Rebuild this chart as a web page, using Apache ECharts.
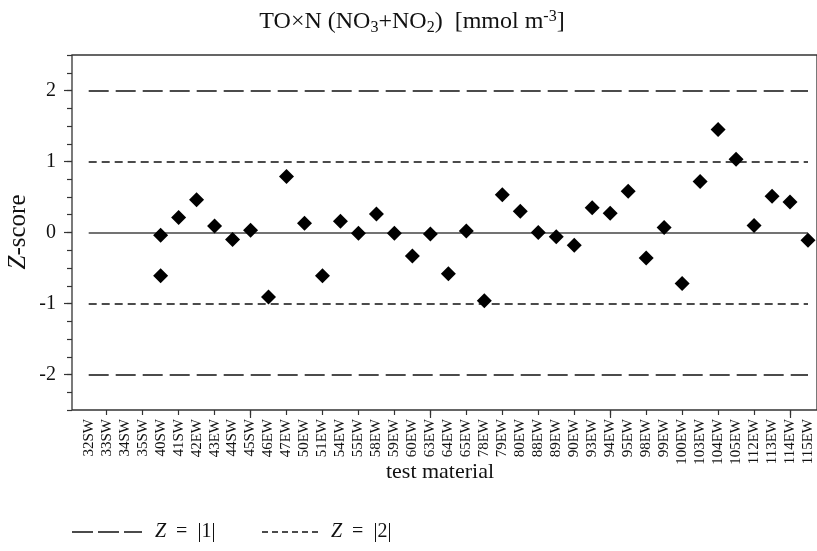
<!DOCTYPE html>
<html><head><meta charset="utf-8">
<script src="https://cdn.jsdelivr.net/npm/echarts@6/dist/echarts.min.js"></script>
<style>html,body{margin:0;padding:0;background:#fff}#c{width:817px;height:551px}</style>
</head><body><div id="c"></div>
<script>
var categories = ['32SW','33SW','34SW','35SW','40SW','41SW','42EW','43EW','44SW','45SW','46EW','47EW','50EW','51EW','54EW','55EW','58EW','59EW','60EW','63EW','64EW','65EW','78EW','79EW','80EW','88EW','89EW','90EW','93EW','94EW','95EW','98EW','99EW','100EW','103EW','104EW','105EW','112EW','113EW','114EW','115EW'];
var zScores = [null,null,null,null,-0.04,0.21,0.46,0.09,-0.10,0.03,-0.91,0.79,0.13,-0.61,0.16,-0.01,0.26,-0.01,-0.33,-0.02,-0.58,0.02,-0.96,0.53,0.30,0.00,-0.06,-0.18,0.35,0.27,0.58,-0.36,0.07,-0.72,0.72,1.45,1.03,0.10,0.51,0.43,-0.11];
var zScoresExtra = [null,null,null,null,-0.61,null,null,null,null,null,null,null,null,null,null,null,null,null,null,null,null,null,null,null,null,null,null,null,null,null,null,null,null,null,null,null,null,null,null,null,null];
var limitOne = [-1, 1];
var limitTwo = [-2, 2];
var yTicks = [-2, -1, 0, 1, 2];

var FONT = '"Liberation Serif", "DejaVu Serif", serif';
var chart = echarts.init(document.getElementById('c'), null, {renderer: 'canvas'});

function hline(v, dash, w, col) {
  return [{coord: [categories[0], v], lineStyle: {type: dash, width: w, color: col}},
          {coord: [categories[categories.length - 1], v]}];
}

var option = {
  animation: false,
  backgroundColor: '#fff',
  title: {
    text: '{a|TO×N (NO}{s|3}{a|+NO}{s|2}{a|)  [mmol m}{p|-3}{a|]}',
    left: 407, top: 3, textAlign: 'center',
    textStyle: {
      fontFamily: FONT, fontWeight: 'normal', color: '#111',
      rich: {
        a: {fontFamily: FONT, fontSize: 24, color: '#111'},
        s: {fontFamily: FONT, fontSize: 16, color: '#111', padding: [12, 0, 0, 0]},
        p: {fontFamily: FONT, fontSize: 16, color: '#111', padding: [0, 0, 11, 0]}
      }
    }
  },
  grid: [
    {left: 72, width: 770, top: 55, bottom: 141, show: true, borderColor: '#333', borderWidth: 1.3, backgroundColor: 'transparent'},
    {left: 79.7, right: 0, top: 55, bottom: 141},
    {left: 72, width: 770, top: 90.5, bottom: 176.5}
  ],
  xAxis: [
    {gridIndex: 0, type: 'value', show: false, min: 0, max: 1},
    {gridIndex: 1, type: 'category', data: categories, boundaryGap: true,
     axisLine: {show: false, onZero: false},
     axisTick: {show: true, alignWithLabel: true, length: 5, interval: function (i) { return i % 2 === 1; }, lineStyle: {color: '#333', width: 1.2}},
     axisLabel: {rotate: 90, interval: 0, margin: 9, fontFamily: FONT, fontSize: 15, color: '#111'},
     splitLine: {show: false}
    },
    {gridIndex: 1, type: 'category', data: categories, boundaryGap: true, position: 'bottom',
     axisLine: {show: false, onZero: false},
     axisTick: {show: true, alignWithLabel: true, length: 8, interval: function (i) { return i % 10 === 9; }, lineStyle: {color: '#333', width: 1.2}},
     axisLabel: {show: false}, splitLine: {show: false}
    },
    {gridIndex: 2, type: 'value', show: false, min: 0, max: 1}
  ],
  yAxis: [
    {gridIndex: 0, type: 'value', min: -2.5, max: 2.5, interval: 0.25,
     axisLine: {show: false}, axisLabel: {show: false}, splitLine: {show: false},
     axisTick: {show: true, length: 5, lineStyle: {color: '#333', width: 1.2}}},
    {gridIndex: 1, type: 'value', min: -2.5, max: 2.5, show: false},
    {gridIndex: 2, type: 'value', min: yTicks[0], max: yTicks[yTicks.length - 1], interval: 1,
     axisLine: {show: false}, splitLine: {show: false},
     axisTick: {show: true, length: 8, lineStyle: {color: '#333', width: 1.2}},
     axisLabel: {margin: 16, fontFamily: FONT, fontSize: 20, color: '#111'}}
  ],
  series: [
    {type: 'line', xAxisIndex: 1, yAxisIndex: 1, data: [], silent: true,
     markLine: {symbol: 'none', silent: true, label: {show: false},
       data: [
         hline(0, 'solid', 1.5, '#444'),
         hline(limitOne[0], [8, 5], 1.5, '#111'),
         hline(limitOne[1], [8, 5], 1.5, '#111'),
         hline(limitTwo[0], [20, 7], 1.5, '#111'),
         hline(limitTwo[1], [20, 7], 1.5, '#111')
       ]}},
    {type: 'scatter', xAxisIndex: 1, yAxisIndex: 1, data: zScores, symbol: 'diamond', symbolSize: [15, 15],
     itemStyle: {color: '#000', opacity: 1}, z: 5},
    {type: 'scatter', xAxisIndex: 1, yAxisIndex: 1, data: zScoresExtra, symbol: 'diamond', symbolSize: [15, 15],
     itemStyle: {color: '#000', opacity: 1}, z: 5}
  ],
  graphic: [
    {type: 'text', x: 18, y: 232, rotation: Math.PI / 2,
     style: {text: '{i|Z}-score', fontFamily: FONT, fontSize: 25, fill: '#111', align: 'center', verticalAlign: 'middle',
       rich: {i: {fontFamily: FONT, fontSize: 25, fontStyle: 'italic', fill: '#111'}}}},
    {type: 'text', x: 440, y: 472,
     style: {text: 'test material', fontFamily: FONT, fontSize: 22, fill: '#111', align: 'center', verticalAlign: 'middle'}},
    {type: 'line', shape: {x1: 72, y1: 532, x2: 142, y2: 532}, style: {stroke: '#111', lineWidth: 1.3, lineDash: [21, 5]}},
    {type: 'text', x: 155, y: 532,
     style: {text: '{i|Z}  =  |1|', fontFamily: FONT, fontSize: 20, fill: '#111', align: 'left', verticalAlign: 'middle',
       rich: {i: {fontFamily: FONT, fontSize: 20, fontStyle: 'italic', fill: '#111'}}}},
    {type: 'line', shape: {x1: 262, y1: 532, x2: 322, y2: 532}, style: {stroke: '#111', lineWidth: 1.3, lineDash: [6, 4]}},
    {type: 'text', x: 331, y: 532,
     style: {text: '{i|Z}  =  |2|', fontFamily: FONT, fontSize: 20, fill: '#111', align: 'left', verticalAlign: 'middle',
       rich: {i: {fontFamily: FONT, fontSize: 20, fontStyle: 'italic', fill: '#111'}}}}
  ]
};
chart.setOption(option);
</script></body></html>
